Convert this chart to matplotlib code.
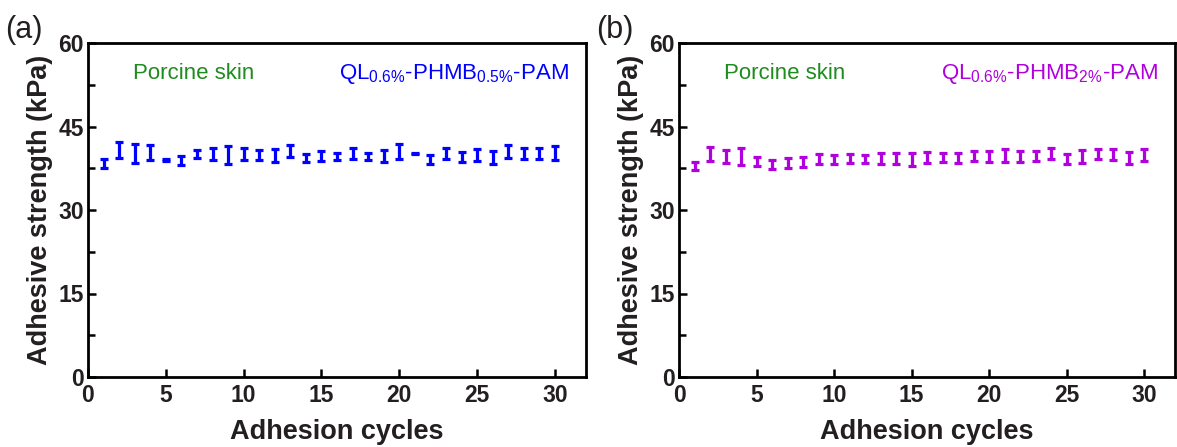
import matplotlib
matplotlib.use("Agg")
import matplotlib.pyplot as plt
from matplotlib.ticker import MultipleLocator

plt.rcParams['font.family'] = ['Liberation Sans', 'DejaVu Sans']
plt.rcParams['mathtext.default'] = 'regular'

cycles = list(range(1, 31))

strength_a = [38.3, 40.8, 40.1, 40.3, 39.0, 38.9, 40.1, 40.0, 39.9, 40.0,
              39.9, 39.8, 40.6, 39.3, 39.7, 39.6, 40.1, 39.6, 39.7, 40.5,
              40.1, 39.0, 40.2, 39.6, 39.9, 39.5, 40.5, 40.1, 40.1, 40.2]
err_a = [0.8, 1.4, 1.7, 1.35, 0.15, 0.8, 0.7, 1.05, 1.55, 1.05,
         0.9, 1.1, 1.1, 0.75, 0.9, 0.7, 1.0, 0.65, 1.15, 1.3,
         0.1, 0.8, 1.0, 0.9, 1.1, 1.15, 1.1, 1.0, 1.0, 1.25]

strength_b = [37.9, 40.1, 39.6, 39.6, 38.7, 38.1, 38.5, 38.6, 39.1, 39.1,
              39.3, 39.2, 39.2, 39.2, 39.1, 39.5, 39.5, 39.4, 39.7, 39.6,
              39.8, 39.6, 39.7, 40.1, 39.2, 39.6, 40.0, 39.9, 39.4, 39.9]
err_b = [0.75, 1.25, 1.2, 1.5, 0.8, 0.8, 0.9, 0.85, 0.9, 0.75,
         0.8, 0.7, 0.95, 0.95, 1.2, 1.0, 0.8, 0.9, 0.9, 1.0,
         1.1, 1.0, 0.9, 1.0, 0.85, 1.1, 0.9, 1.0, 1.1, 1.1]

label_a = r'QL$_{0.6\%}$-PHMB$_{0.5\%}$-PAM'
label_b = r'QL$_{0.6\%}$-PHMB$_{2\%}$-PAM'
color_a = '#0000FF'
color_b = '#B000DD'
green = '#1E8C1E'

fig = plt.figure(figsize=(11.77, 4.47), dpi=100)
W, H = 1177, 447
panels = [
    (88, 586, strength_a, err_a, color_a, label_a, '(a)', 5),
    (679, 1175, strength_b, err_b, color_b, label_b, '(b)', 596),
]
for left, right, vals, errs, col, lab, tag, tagx in panels:
    ax = fig.add_axes([left / W, 1 - 377 / H, (right - left) / W, (377 - 43) / H])
    ax.errorbar(cycles, vals, yerr=errs, fmt='none', ecolor=col,
                elinewidth=2.3, capsize=3, capthick=2.3)
    ax.set_xlim(0, 32)
    ax.set_ylim(0, 60)
    ax.xaxis.set_major_locator(MultipleLocator(5))
    ax.yaxis.set_major_locator(MultipleLocator(15))
    ax.yaxis.set_minor_locator(MultipleLocator(7.5))
    ax.set_xticks(range(0, 31, 5))
    ax.tick_params(which='major', direction='in', length=6, width=1.8,
                   labelsize=16.5, pad=5)
    ax.tick_params(axis='y', which='major', pad=3)
    ax.tick_params(which='minor', direction='in', length=5, width=1.8)
    ax.tick_params(axis='x', which='minor', length=0)
    for t in ax.get_xticklabels() + ax.get_yticklabels():
        t.set_fontweight('bold')
        t.set_color('#231F20')
    for s in ax.spines.values():
        s.set_linewidth(2.0)
        s.set_color('black')
    ax.set_xlabel('Adhesion cycles', fontsize=19.5, fontweight='bold',
                  color='#231F20', labelpad=9)
    ax.set_ylabel('Adhesive strength (kPa)', fontsize=19.5, fontweight='bold',
                  color='#231F20', labelpad=4)
    ax.text(6.8, 54.5, 'Porcine skin', color=green, fontsize=16,
            ha='center', va='center')
    ax.text(30.9, 54.5, lab, color=col, fontsize=16, ha='right', va='center')
    fig.text(tagx / W, 1 - 30 / H, tag, fontsize=22, ha='left', va='center',
             color='#231F20')

fig.savefig('out.png', dpi=100)
